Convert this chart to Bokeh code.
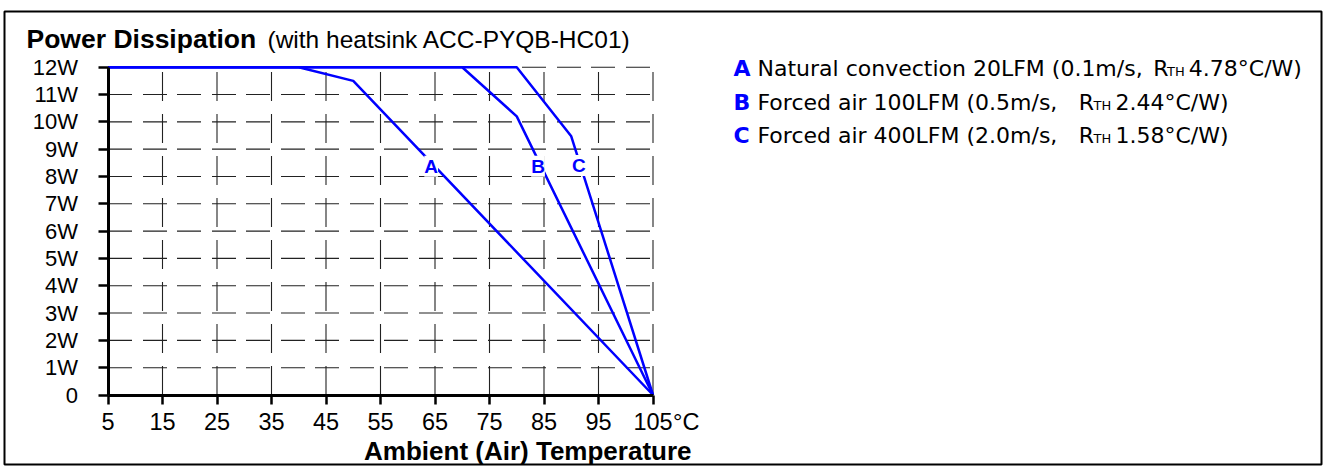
from bokeh.plotting import figure
from bokeh.models import Range1d, FixedTicker, Label, LabelSet, ColumnDataSource, LinearAxis
from bokeh.embed import file_html
from bokeh.resources import INLINE
from bokeh.core.properties import value

# ---------------- data ----------------
temps_A = [5, 40, 50, 105]
power_A = [12, 12, 11.5, 0]
temps_B = [5, 70, 80, 105]
power_B = [12, 12, 10.2, 0]
temps_C = [5, 80, 90, 105]
power_C = [12, 12, 9.47, 0]

curve_names = ["A", "B", "C"]
curve_label_x = [64.3, 83.9, 91.4]
curve_label_y = [8.37, 8.37, 8.40]

x_ticks = [5, 15, 25, 35, 45, 55, 65, 75, 85, 95, 105]
y_ticks = [0, 1, 2, 3, 4, 5, 6, 7, 8, 9, 10, 11, 12]
y_tick_labels = ["0", "1W", "2W", "3W", "4W", "5W", "6W", "7W", "8W", "9W", "10W", "11W", "12W"]
x_unit = "°C"

title_bold = "Power Dissipation"
title_rest = "(with heatsink ACC-PYQB-HC01)"
x_title = "Ambient (Air) Temperature"

legend_desc = ["Natural convection 20LFM (0.1m/s,", "Forced air 100LFM (0.5m/s,", "Forced air 400LFM (2.0m/s,"]
legend_rth = ["4.78°C/W)", "2.44°C/W)", "1.58°C/W)"]

# ---------------- layout ----------------
BLUE = "#0000ff"
W, H = 1324, 467
PX_LEFT, PX_RIGHT = 107.5, 652.5     # x = 5 .. 105
PY_BOTTOM, PY_TOP = 394.5, 66.7      # y = 0 .. 12
SX = (PX_RIGHT - PX_LEFT) / (x_ticks[-1] - x_ticks[0])
SY = (PY_BOTTOM - PY_TOP) / (y_ticks[-1] - y_ticks[0])
LBL_SHIFT = 8  # labels render this many px lower than their anchor


def dx(px):
    return x_ticks[0] + (px - PX_LEFT) / SX


def dy(py):
    return y_ticks[0] + (PY_BOTTOM - py) / SY


def ly(py):
    return dy(py - LBL_SHIFT)


p = figure(width=W, height=H, x_range=Range1d(dx(0), dx(W)), y_range=Range1d(dy(H), dy(0)),
           output_backend="svg", toolbar_location=None,
           x_axis_type=None, y_axis_type=None,
           min_border_left=0, min_border_right=0, min_border_top=0, min_border_bottom=0)
p.outline_line_color = None
p.background_fill_color = "white"
p.border_fill_color = "white"

AX_FONT = "Liberation Sans"

xaxis = LinearAxis(ticker=FixedTicker(ticks=x_ticks), bounds=(x_ticks[0], x_ticks[-1]),
                   fixed_location=y_ticks[0])
yaxis = LinearAxis(ticker=FixedTicker(ticks=y_ticks), bounds=(y_ticks[0], y_ticks[-1]),
                   fixed_location=x_ticks[0])
xaxis.major_label_overrides = {t: str(t) for t in x_ticks}
yaxis.major_label_overrides = {t: lab for t, lab in zip(y_ticks, y_tick_labels)}
for ax in (xaxis, yaxis):
    ax.axis_line_color = "black"
    ax.axis_line_width = 3
    ax.major_tick_line_color = "black"
    ax.major_tick_line_width = 2.5
    ax.major_tick_in = 0
    ax.minor_tick_line_color = None
    ax.major_label_text_font = AX_FONT
    ax.major_label_text_color = "black"
xaxis.major_label_text_font_size = "23.5px"
yaxis.major_label_text_font_size = "22px"
xaxis.major_tick_out = 9
xaxis.major_label_standoff = 9
yaxis.major_tick_out = 10
yaxis.major_label_standoff = 20
p.add_layout(xaxis, "below")
p.add_layout(yaxis, "left")

# outer frame of the figure
p.quad(left=dx(4), right=dx(1321), top=dy(11), bottom=dy(464),
       fill_color=None, line_color="black", line_width=2)

# grid (dashed), drawn from the tick arrays
hy = y_ticks[1:]
p.segment(x0=[x_ticks[0]] * len(hy), y0=hy, x1=[x_ticks[-1]] * len(hy), y1=hy,
          line_color="#222222", line_width=1.1, line_dash="24 11 24 10")
vx = x_ticks[1:]
p.segment(x0=vx, y0=[y_ticks[0]] * len(vx), x1=vx, y1=[y_ticks[-1]] * len(vx),
          line_color="#222222", line_width=1.1, line_dash="29 13")

# curves
for tx, pw in ((temps_A, power_A), (temps_B, power_B), (temps_C, power_C)):
    p.line(tx, pw, line_color=BLUE, line_width=2.5)

src = ColumnDataSource(dict(x=curve_label_x, y=curve_label_y, t=curve_names))
p.add_layout(LabelSet(x="x", y="y", text="t", source=src,
                      text_font=value(AX_FONT), text_font_style="bold", text_font_size=value("19px"),
                      text_color=BLUE, text_align="center", text_baseline="middle",
                      background_fill_color="white"))

# title
p.add_layout(Label(x=dx(26), y=ly(46.7), text=title_bold, text_font=AX_FONT, text_font_style="bold",
                   text_font_size="26.5px", text_color="black", text_align="left", text_baseline="alphabetic"))
p.add_layout(Label(x=dx(267), y=ly(46.7), text=title_rest, text_font=AX_FONT,
                   text_font_size="24.5px", text_color="black", text_align="left", text_baseline="alphabetic"))

# x-axis unit and title
p.add_layout(Label(x=x_ticks[-1], y=ly(429), x_offset=20, text=x_unit, text_font=AX_FONT,
                   text_font_size="23.5px", text_color="black", text_align="left", text_baseline="alphabetic"))
p.add_layout(Label(x=dx(691), y=ly(458), text=x_title, text_font=AX_FONT, text_font_style="bold",
                   text_font_size="26px", text_color="black", text_align="right", text_baseline="alphabetic"))

# legend
LG_FONT = "DejaVu Sans"
base_y = [76, 110, 143]
r_x = [1152.7, 1078.3, 1078.3]
th_x = [1166.5, 1093, 1093]
val_x = [1188.3, 1115, 1115]
for i in range(3):
    yy = ly(base_y[i])
    p.add_layout(Label(x=dx(733), y=yy, text=curve_names[i], text_font=LG_FONT, text_font_style="bold",
                       text_font_size="22px", text_color=BLUE, text_baseline="alphabetic"))
    p.add_layout(Label(x=dx(757), y=yy, text=legend_desc[i], text_font=LG_FONT,
                       text_font_size="22px", text_color="black", text_baseline="alphabetic"))
    p.add_layout(Label(x=dx(r_x[i]), y=yy, text="R", text_font=LG_FONT,
                       text_font_size="22px", text_color="black", text_baseline="alphabetic"))
    p.add_layout(Label(x=dx(th_x[i]), y=ly(base_y[i] + 3), text="TH", text_font=LG_FONT,
                       text_font_size="13px", text_color="black", text_baseline="alphabetic"))
    p.add_layout(Label(x=dx(val_x[i]), y=yy, text=legend_rth[i], text_font=LG_FONT,
                       text_font_size="22px", text_color="black", text_baseline="alphabetic"))

open("out.html", "w").write(file_html(p, INLINE))
